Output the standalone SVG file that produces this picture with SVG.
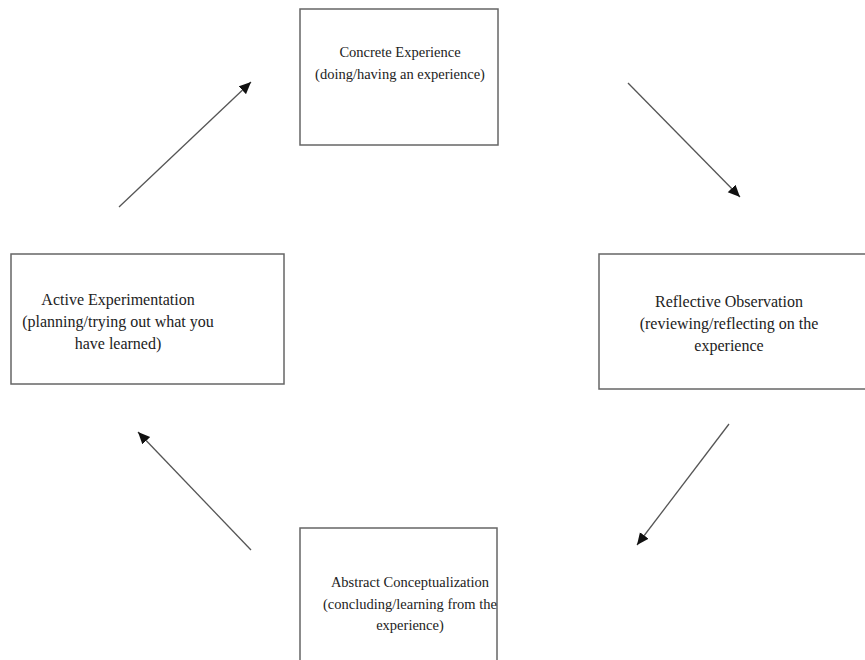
<svg xmlns="http://www.w3.org/2000/svg" width="865" height="660" viewBox="0 0 865 660">
<defs>
<marker id="ah" viewBox="0 0 10 10" refX="10" refY="5" markerWidth="12" markerHeight="12" markerUnits="userSpaceOnUse" orient="auto">
<path d="M0,0.5 L10,5 L0,9.5 z" fill="#111"/>
</marker>
<style>
.box{fill:#fff;stroke:#666;stroke-width:1.5}
.t{font-family:"Liberation Serif",serif;font-size:16px;fill:#222;text-anchor:middle}
.s{font-size:14.5px}
.c{stroke:#555;stroke-width:1.3;fill:none;marker-end:url(#ah)}
</style>
</defs>
<rect width="865" height="660" fill="#fff"/>
<g id="concrete">
<rect class="box" x="300" y="9" width="198" height="136"/>
<text class="t s" x="400" y="57">Concrete Experience</text>
<text class="t s" x="400" y="79">(doing/having an experience)</text>
</g>
<g id="active">
<rect class="box" x="11" y="254" width="273" height="130"/>
<text class="t" x="118" y="305">Active Experimentation</text>
<text class="t" x="118" y="327">(planning/trying out what you</text>
<text class="t" x="118" y="349">have learned)</text>
</g>
<g id="reflective">
<rect class="box" x="599" y="254" width="280" height="135"/>
<text class="t" x="729" y="307">Reflective Observation</text>
<text class="t" x="729" y="329">(reviewing/reflecting on the</text>
<text class="t" x="729" y="351">experience</text>
</g>
<g id="abstract">
<rect class="box" x="300" y="528" width="197" height="150"/>
<text class="t s" x="410" y="587">Abstract Conceptualization</text>
<text class="t s" x="410" y="609">(concluding/learning from the</text>
<text class="t s" x="410" y="630">experience)</text>
</g>
<g id="connectors">
<line class="c" x1="628" y1="83" x2="740" y2="197"/>
<line class="c" x1="729" y1="424" x2="637" y2="545"/>
<line class="c" x1="251" y1="550" x2="138" y2="432"/>
<line class="c" x1="119" y1="207" x2="251" y2="82"/>
</g>
</svg>
